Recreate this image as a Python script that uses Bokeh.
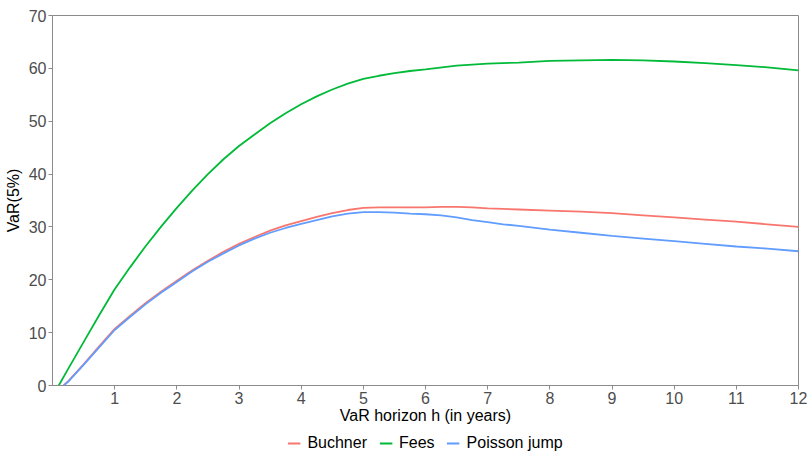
from bokeh.plotting import figure
from bokeh.models import Range1d, FixedTicker, Legend, LegendItem
from bokeh.layouts import column
from bokeh.embed import file_html
from bokeh.resources import INLINE

h_fees = [0.1, 0.25, 0.5, 0.75, 1, 1.25, 1.5, 1.75, 2, 2.25, 2.5, 2.75, 3, 3.25, 3.5, 3.75, 4, 4.25, 4.5, 4.75,
          5, 5.25, 5.5, 5.75, 6, 6.5, 7, 7.5, 8, 8.5, 9, 9.5, 10, 10.5, 11, 11.5, 12]
fees = [0, 3.1, 8.2, 13.3, 18.2, 22.4, 26.4, 30.1, 33.6, 36.9, 40.0, 42.8, 45.3, 47.5, 49.6, 51.5, 53.2, 54.7, 56.0, 57.1,
        58.0, 58.6, 59.1, 59.5, 59.8, 60.5, 60.9, 61.1, 61.4, 61.5, 61.6, 61.5, 61.3, 61.0, 60.6, 60.2, 59.6]

h_other = [0.18, 0.25, 0.5, 0.75, 1, 1.25, 1.5, 1.75, 2, 2.25, 2.5, 2.75, 3, 3.25, 3.5, 3.75, 4, 4.25, 4.5, 4.75,
           5, 5.25, 5.5, 5.75, 6, 6.25, 6.5, 6.75, 7, 7.25, 7.5, 8, 8.5, 9, 9.5, 10, 10.5, 11, 11.5, 12]
buchner = [0, 0.8, 4.0, 7.4, 10.7, 13.2, 15.6, 17.8, 19.8, 21.8, 23.6, 25.3, 26.8, 28.1, 29.3, 30.3, 31.1, 31.9, 32.6, 33.2,
           33.6, 33.7, 33.7, 33.7, 33.7, 33.8, 33.8, 33.7, 33.5, 33.4, 33.3, 33.1, 32.9, 32.6, 32.2, 31.8, 31.4, 31.0, 30.5, 30.0]
poisson = [0, 0.7, 3.9, 7.2, 10.5, 13.0, 15.4, 17.6, 19.6, 21.6, 23.4, 25.0, 26.5, 27.8, 28.9, 29.8, 30.6, 31.3, 32.0, 32.5,
           32.8, 32.8, 32.7, 32.5, 32.4, 32.2, 31.8, 31.3, 30.9, 30.5, 30.2, 29.5, 28.9, 28.3, 27.8, 27.3, 26.8, 26.3, 25.9, 25.4]

series_names = ["Buchner", "Fees", "Poisson jump"]
series_colors = ["#F8766D", "#00BA38", "#619CFF"]

x_ticks = [1, 2, 3, 4, 5, 6, 7, 8, 9, 10, 11, 12]
y_ticks = [0, 10, 20, 30, 40, 50, 60, 70]

FONT = "Liberation Sans"
GRAY = "#8a8a8a"

p = figure(width=809, height=430, output_backend="svg", toolbar_location=None,
           x_range=Range1d(0, 12), y_range=Range1d(0, 70),
           min_border_left=52, min_border_right=11, min_border_top=15, min_border_bottom=45)
p.background_fill_color = "white"
p.border_fill_color = "white"
p.outline_line_color = GRAY
p.outline_line_width = 1
p.xgrid.visible = False
p.ygrid.visible = False

for ax in (p.xaxis[0], p.yaxis[0]):
    ax.axis_line_color = GRAY
    ax.major_tick_line_color = GRAY
    ax.major_tick_out = 4
    ax.major_tick_in = 0
    ax.minor_tick_line_color = None
    ax.major_label_text_font = FONT
    ax.major_label_text_font_size = "16px"
    ax.major_label_text_color = "#4d4d4d"
    ax.axis_label_text_font = FONT
    ax.axis_label_text_font_size = "16px"
    ax.axis_label_text_font_style = "normal"
    ax.axis_label_text_color = "black"

p.xaxis.ticker = FixedTicker(ticks=x_ticks)
p.yaxis.ticker = FixedTicker(ticks=y_ticks)
p.xaxis.axis_label = "VaR horizon h (in years)"
p.yaxis.axis_label = "VaR(5%)"
p.xaxis.major_label_standoff = 2
p.xaxis.axis_label_standoff = 0
p.yaxis.major_label_standoff = 2
p.yaxis.axis_label_standoff = 4

series_x = [h_other, h_fees, h_other]
series_y = [buchner, fees, poisson]
for xs, ys, c in zip(series_x, series_y, series_colors):
    p.line(xs, ys, line_color=c, line_width=1.8)

# legend strip below the plot (a separate small figure so it is not clipped)
lg = figure(width=809, height=25, output_backend="svg", toolbar_location=None,
            x_range=Range1d(-100, -99), y_range=Range1d(-100, -99),
            x_axis_type=None, y_axis_type=None,
            min_border_left=52, min_border_right=11, min_border_top=0, min_border_bottom=0)
lg.outline_line_color = None
lg.background_fill_color = "white"
lg.border_fill_color = "white"
lg.xgrid.visible = False
lg.ygrid.visible = False
items = []
for xs, ys, c, name in zip(series_x, series_y, series_colors, series_names):
    r = lg.line(xs, ys, line_color=c, line_width=1.8)
    items.append(LegendItem(label=name, renderers=[r]))

legend = Legend(items=items, orientation="horizontal", location="center")
legend.label_text_font = FONT
legend.label_text_font_size = "16px"
legend.label_text_color = "black"
legend.border_line_color = None
legend.background_fill_alpha = 0
legend.glyph_width = 13
legend.glyph_height = 16
legend.label_height = 16
legend.label_standoff = 7
legend.spacing = 12
legend.padding = 2
legend.margin = 0
lg.add_layout(legend, "center")

layout = column(p, lg, spacing=0)
open("out.html", "w").write(file_html(layout, INLINE))
